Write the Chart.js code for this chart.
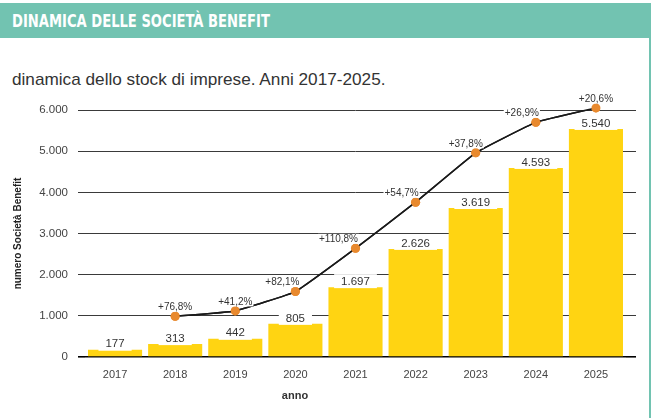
<!DOCTYPE html>
<html>
<head>
<meta charset="utf-8">
<script src="https://cdn.jsdelivr.net/npm/chart.js@4.4.1/dist/chart.umd.min.js"></script>
<style>
  html, body { margin: 0; padding: 0; background: #fff; }
  body { width: 655px; height: 418px; position: relative; overflow: hidden; font-family: "Liberation Sans", Arial, sans-serif; }
  #header { position: absolute; left: 0; top: 3px; width: 651px; height: 35px; background: #72c3b1; }
  #header span { position: absolute; left: 12px; top: 7px; font: bold 18.5px "Liberation Sans Narrow", "DejaVu Sans Condensed", sans-serif; color: #fff; white-space: nowrap; transform-origin: 0 0; line-height: 22px; }
  #rightLine { position: absolute; left: 649px; top: 38px; width: 2px; height: 380px; background: #72c3b1; }
  #subtitle { position: absolute; left: 12px; top: 70.5px; font-size: 17px; line-height: 17px; color: #333; white-space: nowrap; transform-origin: 0 0; }
  #xTitle { position: absolute; left: 295px; top: 389px; transform: translateX(-50%); font-weight: bold; font-size: 11px; color: #333; }
  #wrap { position: absolute; left: 0; top: 90px; width: 655px; height: 328px; }
</style>
</head>
<body>
<div id="header"><span id="headText">DINAMICA DELLE SOCIETÀ BENEFIT</span></div>
<div id="rightLine"></div>
<div id="subtitle">dinamica dello stock di imprese. Anni 2017-2025.</div>
<div id="wrap"><canvas id="chart"></canvas></div>
<div id="xTitle">anno</div>
<script>
const anni = ['2017', '2018', '2019', '2020', '2021', '2022', '2023', '2024', '2025'];
const societa = [177, 313, 442, 805, 1697, 2626, 3619, 4593, 5540];
const andamento = [null, 990, 1120, 1590, 2640, 3760, 4960, 5700, 6050];
const crescita = [null, 76.8, 41.2, 82.1, 110.8, 54.7, 37.8, 26.9, 20.6];
const yTicks = [0, 1000, 2000, 3000, 4000, 5000, 6000];

// label nudges (px) so the percentages sit left of the rising line
const pctShift = [0, 0, 0, -13, -17, -14, -10, -14, 0];

const head = document.getElementById('headText');
head.style.transform = 'scaleX(' + (258 / head.offsetWidth) + ')';
const sub = document.getElementById('subtitle');
sub.style.transform = 'scaleX(' + (374 / sub.offsetWidth) + ')';

function migliaia(v) {
  return String(v).replace(/\B(?=(\d{3})+(?!\d))/g, '.');
}

const gridColor = (c) => c.tick && c.tick.value === 0 ? '#000' : '#3a3a3a';
const gridWidth = (c) => c.tick && c.tick.value === 0 ? 1.6 : 1;

const valueLabels = {
  id: 'valueLabels',
  afterDraw(chart) {
    const ctx = chart.ctx;
    // line and dots on top of the gridlines
    chart.getDatasetMeta(1).controller.draw();

    ctx.save();
    ctx.textAlign = 'center';
    ctx.textBaseline = 'middle';

    ctx.font = '11.5px "Liberation Sans", Arial, sans-serif';
    chart.getDatasetMeta(0).data.forEach((bar, i) => {
      const txt = migliaia(societa[i]);
      const w = ctx.measureText(txt).width + 14;
      const y = bar.y - 6;
      ctx.fillStyle = '#fff';
      ctx.fillRect(bar.x - w / 2, y - 7, w, 14);
      ctx.fillStyle = '#333';
      ctx.fillText(txt, bar.x, y + 0.5);
    });

    ctx.font = '10px "Liberation Sans", Arial, sans-serif';
    chart.getDatasetMeta(1).data.forEach((pt, i) => {
      if (crescita[i] == null) return;
      const txt = '+' + crescita[i].toFixed(1).replace('.', ',') + '%';
      const w = ctx.measureText(txt).width + 2;
      const x = pt.x + pctShift[i];
      const y = pt.y - 9.5;
      ctx.fillStyle = '#fff';
      ctx.fillRect(x - w / 2, y - 5, w, 10);
      ctx.fillStyle = '#333';
      ctx.fillText(txt, x, y + 0.5);
    });
    ctx.restore();
  }
};

new Chart(document.getElementById('chart'), {
  type: 'bar',
  data: {
    labels: anni,
    datasets: [{
      label: 'numero Società Benefit',
      data: societa,
      backgroundColor: '#ffd412',
      barPercentage: 0.9,
      categoryPercentage: 1,
      order: 2
    }, {
      type: 'line',
      label: 'variazione',
      data: andamento,
      borderColor: '#1a1a1a',
      borderWidth: 1.5,
      tension: 0.1,
      pointRadius: 4.5,
      pointBackgroundColor: '#e8892e',
      pointBorderWidth: 0,
      order: 1
    }]
  },
  options: {
    responsive: true,
    maintainAspectRatio: false,
    animation: false,
    layout: { padding: { left: 8, right: 19, top: 20, bottom: 21 } },
    plugins: {
      legend: { display: false },
      tooltip: { enabled: false }
    },
    scales: {
      x: {
        grid: { display: false },
        border: { display: false },
        ticks: { color: '#444', padding: 3, font: { size: 11, family: '"Liberation Sans", Arial, sans-serif' } },
        afterFit: (s) => { s.height = 40; }
      },
      y: {
        min: 0,
        max: 6000,
        z: 1,
        afterBuildTicks: (s) => { s.ticks = yTicks.map(v => ({ value: v })); },
        afterFit: (s) => { s.width = 77; },
        border: { display: false },
        grid: { color: gridColor, lineWidth: gridWidth, tickLength: 7 },
        ticks: {
          color: '#444',
          padding: 10,
          font: { size: 11.5, family: '"Liberation Sans", Arial, sans-serif' },
          callback: (v) => migliaia(v)
        },
        title: {
          display: true,
          text: 'numero Società Benefit',
          color: '#222',
          font: { size: 10, weight: 'bold', family: '"Liberation Sans", Arial, sans-serif' }
        }
      },
      y2: {
        position: 'right',
        display: true,
        min: 0,
        max: 6000,
        z: 1,
        afterBuildTicks: (s) => { s.ticks = yTicks.map(v => ({ value: v })); },
        border: { display: false },
        grid: { drawOnChartArea: false, color: gridColor, lineWidth: gridWidth, tickLength: 10 },
        ticks: { display: false }
      }
    }
  },
  plugins: [valueLabels]
});
</script>
</body>
</html>
